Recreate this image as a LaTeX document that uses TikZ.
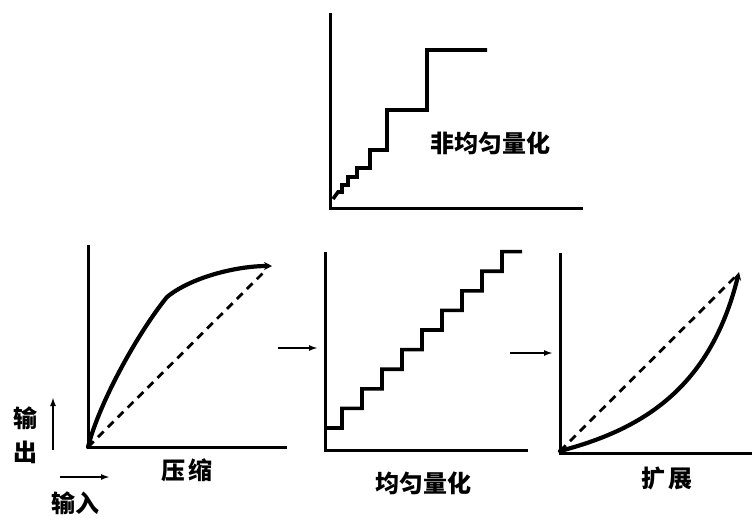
\documentclass[tikz,border=0pt]{standalone}
\usepackage{fontspec}
\newfontfamily\cjk{Noto Sans CJK SC}
\usetikzlibrary{arrows.meta}

\begin{document}
\begin{tikzpicture}[x=1pt,y=-1pt,
    axis/.style={line width=3pt},
    curve/.style={line width=4.2pt, line cap=round},
    stair/.style={line width=3.6pt},
    guide/.style={line width=2.8pt, dash pattern=on 8pt off 6pt},
    label/.style={font=\cjk\bfseries\fontsize{24}{24}\selectfont, inner sep=0pt},
    flow/.style={line width=2pt, -{Latex[length=9pt,width=6pt]}}]
    \useasboundingbox (0,0) rectangle (754,520);

    % Non-uniform quantisation (top)
    \draw[axis] (330,13) -- (330,208) -- (583,208);
    \draw[stair] (333,199) -- (338,192) -- (342,192) -- (342,185) -- (348,185)
        -- (348,177) -- (357,177) -- (357,168) -- (370,168) -- (370,150)
        -- (387,150) -- (387,110) -- (427,110) -- (427,50) -- (487,50);
    \node[label] (nonuni) at (490,143) {非均匀量化};

    % Compression
    \coordinate (o1) at (88,447);
    \coordinate (e1) at (272,266);
    \draw[axis] (88,245) -- (o1) -- (287,447);
    \draw[curve, -{Stealth[length=8pt,width=8pt]}] (o1) .. controls (100,400) and (140,330) .. (167,297)
        .. controls (190,278) and (235,266) .. (e1);
    \draw[guide] (o1) -- (263,273);
    \node[label] (compress) at (187,470) {压\,缩};

    % Input / output direction marks
    \node[label] (outa) at (25,418) {输};
    \node[label] (outb) at (25,452) {出};
    \coordinate (up0) at (53,450);
    \coordinate (up1) at (53,397);
    \draw[flow] (up0) -- (up1);
    \coordinate (in0) at (60,477);
    \coordinate (in1) at (110,477);
    \draw[flow] (in0) -- (in1);
    \node[label] (input) at (75,503) {输入};

    % Compression -> uniform quantisation
    \coordinate (a0) at (278,348);
    \coordinate (a1) at (318,348);
    \draw[flow] (a0) -- (a1);

    % Uniform quantisation
    \draw[axis] (325,252) -- (325,450) -- (528,450);
    \draw[stair] (325,428) foreach \i in {1,...,9} {
        -- (322+20*\i,447.6-19.6*\i) -- (322+20*\i,428-19.6*\i) } -- (522,251.6);
    \node[label] (uniform) at (423,483) {均匀量化};

    % Uniform quantisation -> expansion
    \coordinate (b0) at (510,353);
    \coordinate (b1) at (553,353);
    \draw[flow] (b0) -- (b1);

    % Expansion
    \coordinate (o3) at (560,451);
    \coordinate (e3) at (739,272);
    \draw[axis] (560,253) -- (560,453) -- (752,453);
    \draw[curve, -{Stealth[length=8pt,width=8pt]}] (o3) .. controls (640,430) and (710,390) .. (e3);
    \draw[guide] (o3) -- (735,277);
    \node[label] (expand) at (667,478) {扩\,展};
\end{tikzpicture}
\end{document}
